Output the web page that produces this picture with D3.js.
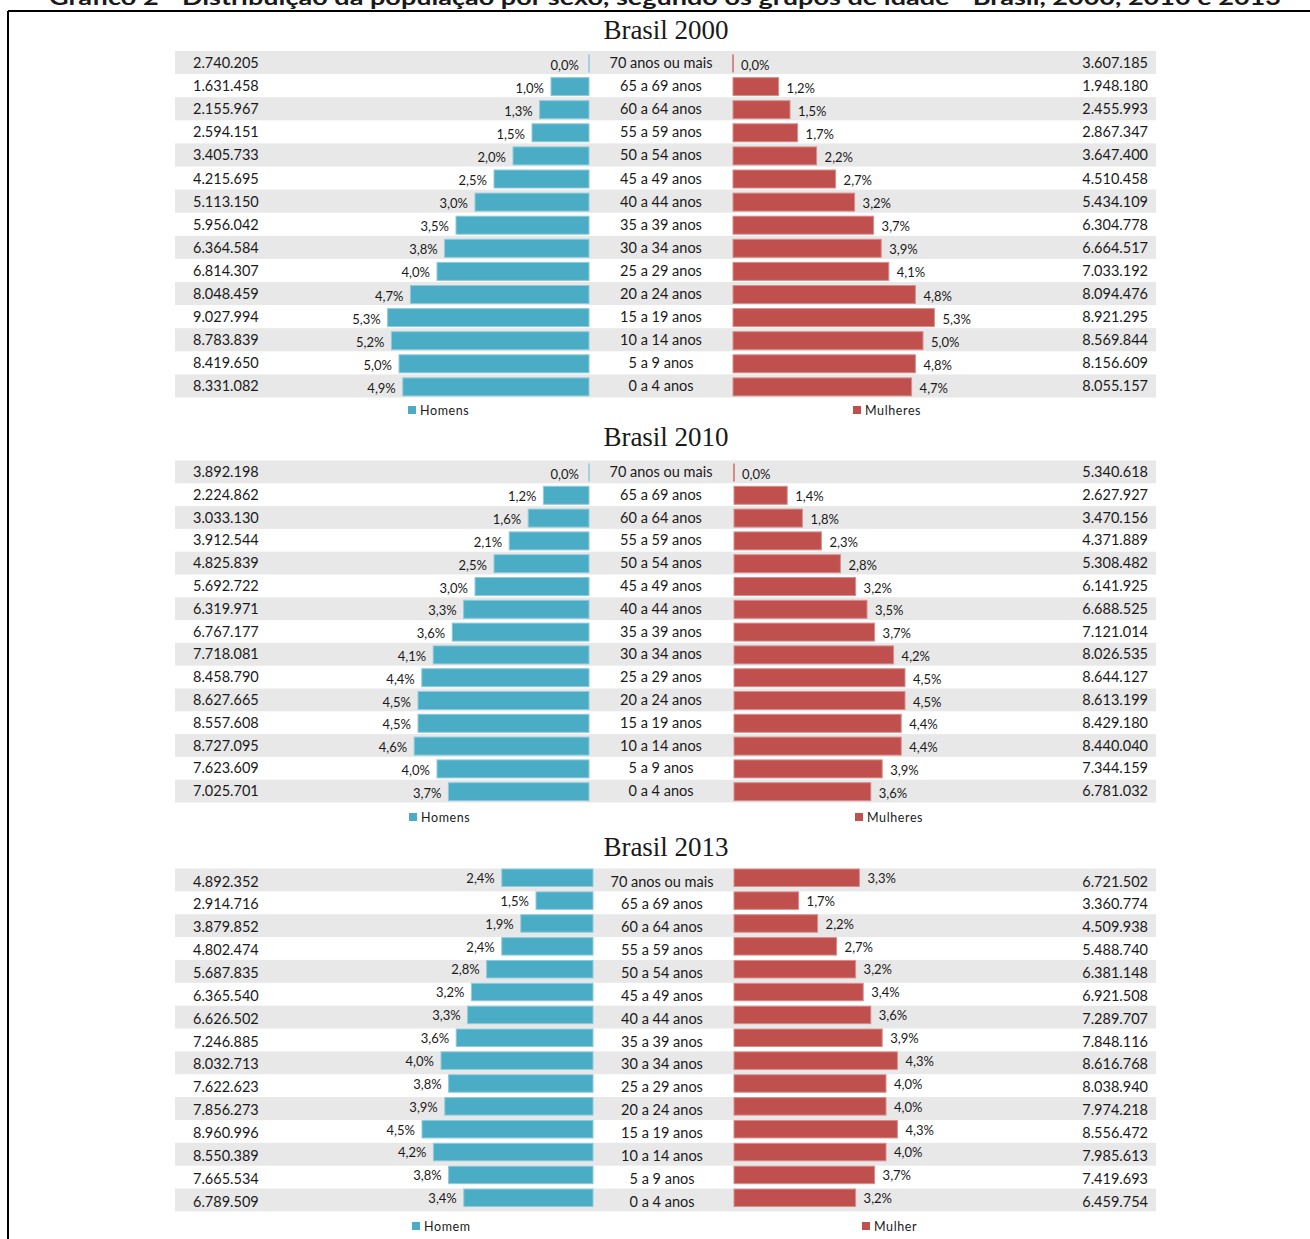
<!DOCTYPE html>
<html>
<head>
<meta charset="utf-8">
<script src="https://cdn.jsdelivr.net/npm/d3@7"></script>
<style>
  body { margin: 0; background: #fff; }
  svg text { font-family: Lato, "Open Sans", sans-serif; fill: #1a1a1a; }
</style>
</head>
<body>
<svg width="1310" height="1239"></svg>
<script>
// age groups, top to bottom
var ages = ["70 anos ou mais", "65 a 69 anos", "60 a 64 anos", "55 a 59 anos", "50 a 54 anos",
  "45 a 49 anos", "40 a 44 anos", "35 a 39 anos", "30 a 34 anos", "25 a 29 anos",
  "20 a 24 anos", "15 a 19 anos", "10 a 14 anos", "5 a 9 anos", "0 a 4 anos"];

// Brasil 2000
var men2000   = ["2.740.205","1.631.458","2.155.967","2.594.151","3.405.733","4.215.695","5.113.150","5.956.042","6.364.584","6.814.307","8.048.459","9.027.994","8.783.839","8.419.650","8.331.082"];
var menPct2000   = [0.0,1.0,1.3,1.5,2.0,2.5,3.0,3.5,3.8,4.0,4.7,5.3,5.2,5.0,4.9];
var womenPct2000 = [0.0,1.2,1.5,1.7,2.2,2.7,3.2,3.7,3.9,4.1,4.8,5.3,5.0,4.8,4.7];
var women2000 = ["3.607.185","1.948.180","2.455.993","2.867.347","3.647.400","4.510.458","5.434.109","6.304.778","6.664.517","7.033.192","8.094.476","8.921.295","8.569.844","8.156.609","8.055.157"];

// Brasil 2010
var men2010   = ["3.892.198","2.224.862","3.033.130","3.912.544","4.825.839","5.692.722","6.319.971","6.767.177","7.718.081","8.458.790","8.627.665","8.557.608","8.727.095","7.623.609","7.025.701"];
var menPct2010   = [0.0,1.2,1.6,2.1,2.5,3.0,3.3,3.6,4.1,4.4,4.5,4.5,4.6,4.0,3.7];
var womenPct2010 = [0.0,1.4,1.8,2.3,2.8,3.2,3.5,3.7,4.2,4.5,4.5,4.4,4.4,3.9,3.6];
var women2010 = ["5.340.618","2.627.927","3.470.156","4.371.889","5.308.482","6.141.925","6.688.525","7.121.014","8.026.535","8.644.127","8.613.199","8.429.180","8.440.040","7.344.159","6.781.032"];

// Brasil 2013
var men2013   = ["4.892.352","2.914.716","3.879.852","4.802.474","5.687.835","6.365.540","6.626.502","7.246.885","8.032.713","7.622.623","7.856.273","8.960.996","8.550.389","7.665.534","6.789.509"];
var menPct2013   = [2.4,1.5,1.9,2.4,2.8,3.2,3.3,3.6,4.0,3.8,3.9,4.5,4.2,3.8,3.4];
var womenPct2013 = [3.3,1.7,2.2,2.7,3.2,3.4,3.6,3.9,4.3,4.0,4.0,4.3,4.0,3.7,3.2];
var women2013 = ["6.721.502","3.360.774","4.509.938","5.488.740","6.381.148","6.921.508","7.289.707","7.848.116","8.616.768","8.038.940","7.974.218","8.556.472","7.985.613","7.419.693","6.459.754"];

var blue = "#4bacc6", red = "#c0504d";
var svg = d3.select("svg");

// frame and cut-off heading
svg.append("line").attr("x1", 8).attr("x2", 8).attr("y1", 11).attr("y2", 1239)
  .attr("stroke", "#000").attr("stroke-width", 2);
svg.append("line").attr("x1", 8).attr("x2", 1310).attr("y1", 11).attr("y2", 11)
  .attr("stroke", "#000").attr("stroke-width", 2);
svg.append("text").attr("x", 665).attr("y", 5).attr("text-anchor", "middle")
  .attr("textLength", 1232).attr("lengthAdjust", "spacingAndGlyphs")
  .style("font-size", "20px").style("font-weight", "bold")
  .text("Gráfico 2 - Distribuição da população por sexo, segundo os grupos de idade - Brasil, 2000, 2010 e 2013");

var panels = [
  {title: "Brasil 2000", titleY: 39, top: 51, step: 23.1, barOff: 3.5, barH: 18, txtOff: 12, pctOff: 14,
   mAxis: 589, fAxis: 733, mid: 661, men: men2000, mp: menPct2000, wp: womenPct2000, women: women2000,
   legY: 411, legM: 408, legF: 853, labM: "Homens", labF: "Mulheres"},
  {title: "Brasil 2010", titleY: 446, top: 460.5, step: 22.8, barOff: 3, barH: 18, txtOff: 11.5, pctOff: 13.5,
   mAxis: 589, fAxis: 734, mid: 661, men: men2010, mp: menPct2010, wp: womenPct2010, women: women2010,
   legY: 818, legM: 409, legF: 855, labM: "Homens", labF: "Mulheres"},
  {title: "Brasil 2013", titleY: 856, top: 868.5, step: 22.86, barOff: 0.5, barH: 17.5, txtOff: 13, pctOff: 10,
   mAxis: 593, fAxis: 734, mid: 662, men: men2013, mp: menPct2013, wp: womenPct2013, women: women2013,
   legY: 1227, legM: 412, legF: 862, labM: "Homem", labF: "Mulher"}
];

// px per percentage point
var x = d3.scaleLinear().domain([0, 1]).range([0, 38]);

panels.forEach(function(p) {
  var y = d3.scaleBand().domain(ages).range([p.top, p.top + p.step * ages.length]);
  var g = svg.append("g");

  g.append("text").attr("x", 666).attr("y", p.titleY).attr("text-anchor", "middle")
    .style("font-family", "'Liberation Serif', 'Times New Roman', serif")
    .style("font-size", "27px").text(p.title);

  // alternating grey rows
  g.selectAll(".band").data(ages.filter(function(d, i) { return i % 2 == 0; }))
    .enter().append("rect")
      .attr("x", 175).attr("width", 981)
      .attr("y", function(d) { return y(d); })
      .attr("height", y.bandwidth())
      .attr("fill", "#e8e8e8");

  var rows = ages.map(function(a, i) {
    return {age: a, m: p.men[i], mp: p.mp[i], wp: p.wp[i], w: p.women[i]};
  });

  // male bars
  g.selectAll(".mbar").data(rows).enter().append("rect")
    .attr("x", function(d) { return p.mAxis - x(d.mp); })
    .attr("y", function(d) { return y(d.age) + p.barOff; })
    .attr("width", function(d) { return x(d.mp); })
    .attr("height", p.barH)
    .attr("fill", blue).attr("stroke", "#8fcbdb").attr("stroke-width", 1);

  // female bars
  g.selectAll(".fbar").data(rows).enter().append("rect")
    .attr("x", p.fAxis)
    .attr("y", function(d) { return y(d.age) + p.barOff; })
    .attr("width", function(d) { return x(d.wp); })
    .attr("height", p.barH)
    .attr("fill", red).attr("stroke", "#d88e8c").attr("stroke-width", 1);

  // zero-value bars still show as a thin edge
  g.selectAll(".mzero").data(rows.filter(function(d) { return d.mp == 0; })).enter().append("line")
    .attr("x1", p.mAxis).attr("x2", p.mAxis)
    .attr("y1", function(d) { return y(d.age) + p.barOff; })
    .attr("y2", function(d) { return y(d.age) + p.barOff + p.barH; })
    .attr("stroke", "#8fcbdb").attr("stroke-width", 1.5);
  g.selectAll(".fzero").data(rows.filter(function(d) { return d.wp == 0; })).enter().append("line")
    .attr("x1", p.fAxis).attr("x2", p.fAxis)
    .attr("y1", function(d) { return y(d.age) + p.barOff; })
    .attr("y2", function(d) { return y(d.age) + p.barOff + p.barH; })
    .attr("stroke", "#d06a67").attr("stroke-width", 1.5);

  var fmt = function(v) { return v.toFixed(1).replace(".", ",") + "%"; };

  g.selectAll(".mpct").data(rows).enter().append("text")
    .attr("x", function(d) { return p.mAxis - x(d.mp) - (d.mp == 0 ? 10 : 7); })
    .attr("y", function(d) { return y(d.age) + p.pctOff; })
    .attr("dy", "0.35em").attr("text-anchor", "end")
    .style("font-size", "13px").text(function(d) { return fmt(d.mp); });

  g.selectAll(".fpct").data(rows).enter().append("text")
    .attr("x", function(d) { return p.fAxis + x(d.wp) + 8; })
    .attr("y", function(d) { return y(d.age) + p.pctOff; })
    .attr("dy", "0.35em")
    .style("font-size", "13px").text(function(d) { return fmt(d.wp); });

  g.selectAll(".age").data(rows).enter().append("text")
    .attr("x", p.mid)
    .attr("y", function(d) { return y(d.age) + p.txtOff; })
    .attr("dy", "0.35em").attr("text-anchor", "middle")
    .style("font-size", "14.5px").text(function(d) { return d.age; });

  g.selectAll(".mnum").data(rows).enter().append("text")
    .attr("x", 193)
    .attr("y", function(d) { return y(d.age) + p.txtOff; })
    .attr("dy", "0.35em")
    .style("font-size", "14.5px").text(function(d) { return d.m; });

  g.selectAll(".fnum").data(rows).enter().append("text")
    .attr("x", 1148)
    .attr("y", function(d) { return y(d.age) + p.txtOff; })
    .attr("dy", "0.35em").attr("text-anchor", "end")
    .style("font-size", "14.5px").text(function(d) { return d.w; });

  // legend
  [[p.legM, blue, p.labM], [p.legF, red, p.labF]].forEach(function(l) {
    g.append("rect").attr("x", l[0]).attr("y", p.legY - 5).attr("width", 8).attr("height", 8).attr("fill", l[1]);
    g.append("text").attr("x", l[0] + 12).attr("y", p.legY).attr("dy", "0.35em")
      .style("font-size", "12.5px").style("letter-spacing", "0.6px").text(l[2]);
  });
});
</script>
</body>
</html>
